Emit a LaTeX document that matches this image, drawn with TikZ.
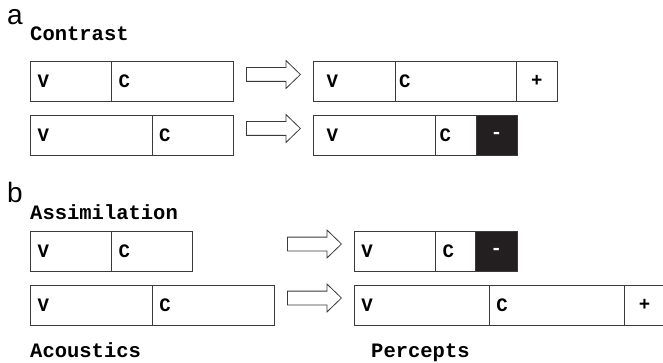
\documentclass[tikz,border=0pt]{standalone}
\usepackage{fontspec}
\usetikzlibrary{positioning,shapes.arrows}

\newfontfamily\monofont{Liberation Mono}
\newfontfamily\panelfont{Liberation Sans}
\definecolor{linegray}{HTML}{3A3A3A}
\definecolor{inkblack}{HTML}{231F20}
\newcommand{\cellfont}{\monofont\bfseries\fontsize{19}{19}\selectfont}
\newcommand{\headfont}{\monofont\bfseries\fontsize{20.5}{20.5}\selectfont}

\tikzset{
  seg/.style={draw=linegray, line width=0.8pt, minimum height=40pt,
    inner ysep=0pt, inner xsep=7pt, outer sep=0pt, text width=#1,
    align=left, font=\cellfont},
  posseg/.style={seg=#1, align=center},
  negseg/.style={seg=#1, align=center, fill=inkblack, text=white},
  heading/.style={font=\headfont, anchor=base west, inner sep=0pt},
  panel/.style={font=\panelfont\fontsize{28}{28}\selectfont,
    anchor=base west, inner sep=0pt},
  bigarrow/.style={draw=linegray, line width=0.8pt, single arrow,
    single arrow head extend=7pt, single arrow tip angle=88,
    inner xsep=0pt, inner ysep=6.5pt, minimum height=54pt, anchor=tip}
}

\begin{document}
\begin{tikzpicture}[x=1pt, y=1pt]
      \useasboundingbox (0,0) rectangle (663,-363);

      % a: Contrast
      \node[panel] (pa) at (7,-25) {a};
      \node[heading] (contrast) at (30,-41) {Contrast};
      % acoustics, short vowel
      \node[seg=67pt, anchor=west] (v1) at (30.5,-81) {V};
      \node[seg=108pt, right=0pt of v1] (c1) {C};
      % acoustics, long vowel
      \node[seg=107.5pt, anchor=west] (v2) at (30.5,-135) {V};
      \node[seg=67.5pt, right=0pt of v2] (c2) {C};
      % percepts
      \node[seg=55.3pt, inner xsep=13pt, anchor=west] (v1r) at (313.7,-81) {V};
      \node[seg=113.7pt, inner xsep=4pt, right=0pt of v1r] (c1r) {C};
      \node[posseg=26.3pt, right=0pt of c1r] (p1r) {+};
      \node[seg=96pt, inner xsep=13pt, anchor=west] (v2r) at (313.7,-135) {V};
      \node[seg=32.3pt, inner xsep=4pt, right=0pt of v2r] (c2r) {C};
      \node[negseg=27pt, right=0pt of c2r] (n2r) {-};
      \node[bigarrow] (ar1) at (301,-74.5) {};
      \node[bigarrow] (ar2) at (301,-128.5) {};

      % b: Assimilation
      \node[panel] (pb) at (7,-203) {b};
      \node[heading] (assim) at (30,-219) {Assimilation};
      % acoustics
      \node[seg=67pt, anchor=west] (v3) at (30.7,-251) {V};
      \node[seg=67pt, right=0pt of v3] (c3) {C};
      \node[seg=107.6pt, anchor=west] (v4) at (30.7,-305.3) {V};
      \node[seg=107.7pt, right=0pt of v4] (c4) {C};
      % percepts
      \node[seg=67.4pt, anchor=west] (v3r) at (354.3,-251) {V};
      \node[seg=26pt, right=0pt of v3r] (c3r) {C};
      \node[negseg=27.3pt, right=0pt of c3r] (n3r) {-};
      \node[seg=121pt, anchor=west] (v4r) at (354.3,-305.3) {V};
      \node[seg=121pt, right=0pt of v4r] (c4r) {C};
      \node[posseg=26.6pt, right=0pt of c4r] (p4r) {+};
      \node[bigarrow] (ar3) at (342,-244) {};
      \node[bigarrow] (ar4) at (342,-298) {};

      % column captions
      \node[heading] (acoustics) at (30,-357) {Acoustics};
      \node[heading] (percepts) at (371,-357.5) {Percepts};
\end{tikzpicture}
\end{document}
